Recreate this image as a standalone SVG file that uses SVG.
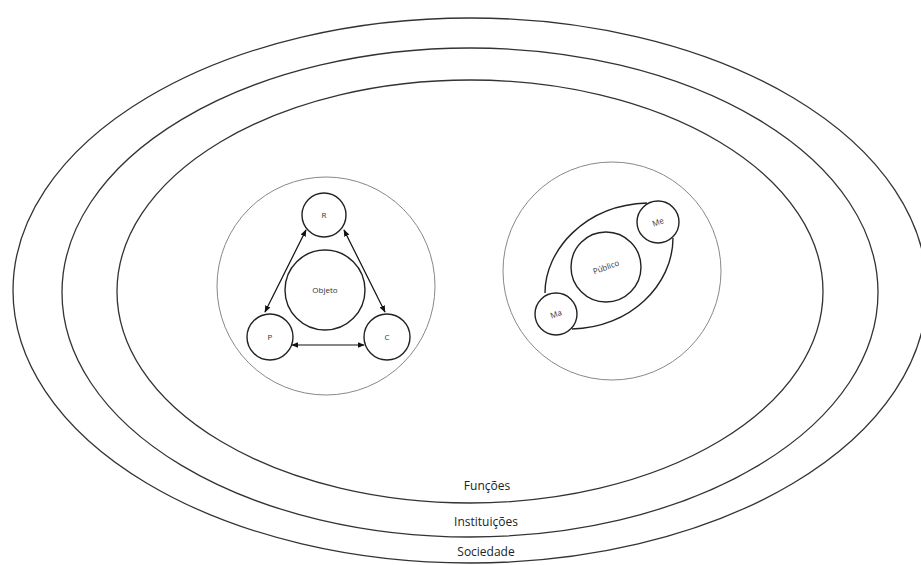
<svg xmlns="http://www.w3.org/2000/svg" width="921" height="565" viewBox="0 0 921 565">
<defs>
<style>
.ring{fill:none;stroke:#333;stroke-width:1.3}
.big{fill:none;stroke:#888;stroke-width:1}
.node{fill:#fff;stroke:#222;stroke-width:1.4}
.lens{fill:none;stroke:#222;stroke-width:1.4}
.conn{fill:none;stroke:#111;stroke-width:1.2;marker-start:url(#ah);marker-end:url(#ah)}
.lbl{font-family:"Open Sans","Liberation Sans",sans-serif;font-size:12px;fill:#222;text-anchor:middle}
.sm{font-family:"Open Sans","Liberation Sans",sans-serif;font-size:8px;fill:#333;text-anchor:middle}
</style>
<marker id="ah" viewBox="0 0 10 10" refX="9" refY="5" markerWidth="7" markerHeight="7" orient="auto-start-reverse" markerUnits="userSpaceOnUse">
<path d="M0,1 L10,5 L0,9 Z" fill="#111"/>
</marker>
</defs>
<rect width="921" height="565" fill="#fff"/>
<g id="sociedade">
<ellipse class="ring" cx="470" cy="290.5" rx="457" ry="272.5"/>
<text class="lbl" x="486" y="556">Sociedade</text>
</g>
<g id="instituicoes">
<ellipse class="ring" cx="470" cy="292.5" rx="408" ry="244.5"/>
<text class="lbl" x="486" y="526">Instituições</text>
</g>
<g id="funcoes">
<ellipse class="ring" cx="470" cy="291.5" rx="353" ry="211.5"/>
<text class="lbl" x="487" y="490">Funções</text>
</g>
<g id="grupo-objeto">
<circle class="big" cx="326" cy="286" r="109"/>
</g>
<g id="grupo-publico">
<circle class="big" cx="612" cy="271" r="109"/>
<path class="lens" d="M545,293 C545,250 585,205 647,203"/>
<path class="lens" d="M673,238 C673,285 630,328 572,329"/>
</g>
<g id="connectors">
<line class="conn" x1="306" y1="230" x2="265" y2="312"/>
<line class="conn" x1="344" y1="230" x2="385" y2="312"/>
<line class="conn" x1="292" y1="345" x2="364" y2="345"/>
</g>
<g id="objeto">
<circle class="node" cx="325" cy="290" r="40"/>
<text class="sm" x="325" y="293">Objeto</text>
</g>
<g id="R">
<circle class="node" cx="324" cy="215" r="22"/>
<text class="sm" x="324" y="218">R</text>
</g>
<g id="P">
<circle class="node" cx="270" cy="337" r="23"/>
<text class="sm" x="270" y="340">P</text>
</g>
<g id="C">
<circle class="node" cx="387" cy="337" r="23"/>
<text class="sm" x="387" y="340">C</text>
</g>
<g id="publico">
<circle class="node" cx="606" cy="267" r="35"/>
<text class="sm" x="606" y="270" transform="rotate(-20 606 267)">Público</text>
</g>
<g id="Me">
<circle class="node" cx="658" cy="222" r="21"/>
<text class="sm" x="658" y="225" transform="rotate(-20 658 222)">Me</text>
</g>
<g id="Ma">
<circle class="node" cx="556" cy="314" r="21"/>
<text class="sm" x="556" y="317" transform="rotate(-20 556 314)">Ma</text>
</g>
</svg>
